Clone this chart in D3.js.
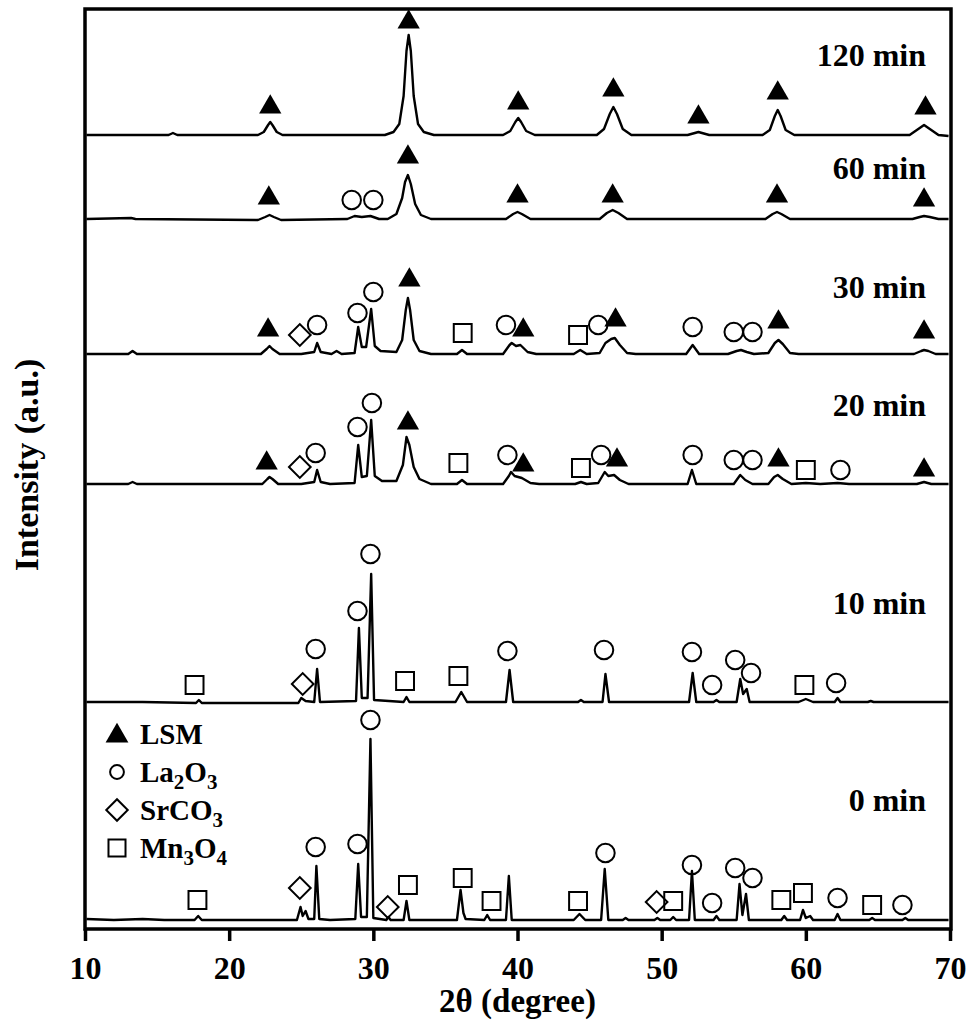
<!DOCTYPE html>
<html>
<head>
<meta charset="utf-8">
<script src="https://cdn.jsdelivr.net/npm/d3@7"></script>
<style>
  body { margin: 0; background: #fff; }
  .graph text { font-family: 'Liberation Serif', 'Times New Roman', serif; font-weight: bold; fill: #000; }
</style>
</head>
<body>
<div class="graph-container"></div>
<script>
// sample names, bottom to top
var SERIES = ['0 min', '10 min', '20 min', '30 min', '60 min', '120 min'];
// vertical shift of each pattern (a.u.)
var OFFSETS = [8, 226, 444, 574, 709, 793];
// height of the sample name above its pattern (a.u.)
var LABEL_HEIGHTS = [121, 100, 80, 68, 52, 81];
var X_TICKS = [10, 20, 30, 40, 50, 60, 70];

// patterns: [2theta, intensity above baseline]
var TRACE_0 = [[10.1,2],[12,1],[14,2],[15.5,1],[17.6,1],[17.85,5],[18.1,1],[21,1],[24.7,1],[24.95,14],[25.1,5],[25.3,10],[25.5,2],
  [25.9,2],[26.05,55],[26.25,2],[27,1],[28.75,2],[28.95,57],[29.15,4],[29.55,4],[29.8,182],[30.0,3],[30.9,1],[31.05,4],[31.2,1],
  [32.1,1],[32.3,20],[32.5,1],[35.8,1],[36.05,31],[36.25,8],[36.4,2],[37.7,1],[37.9,6],[38.1,1],[39.2,1],[39.4,45],[39.6,1],
  [43.9,1],[44.3,7],[44.7,1],[45.8,1],[46.05,52],[46.3,1],[47.3,1],[47.5,3],[47.7,1],[49.5,1],[49.7,3],[49.9,1],[50.6,1],[50.8,4],
  [51.0,1],[51.9,1],[52.1,50],[52.3,1],[53.6,1],[53.8,5],[54.0,1],[55.2,1],[55.4,37],[55.6,6],[55.85,27],[56.05,1],[58.3,1],
  [58.5,5],[58.7,1],[59.6,1],[59.8,11],[60.0,3],[60.3,5],[60.5,1],[62.0,1],[62.2,7],[62.4,1],[64.4,1],[64.6,3],[64.8,1],
  [66.7,1],[66.9,3],[67.1,1],[69.9,1]];
var TRACE_10 = [[10.1,1],[14,1],[17.7,0],[17.9,3],[18.1,0],[24.8,0],[25.0,5],[25.3,2],[25.9,1],[26.1,34],[26.3,1],[28.8,2],
  [29.0,75],[29.2,5],[29.6,5],[29.85,129],[30.05,3],[32.1,1],[32.3,6],[32.5,1],[35.7,1],[36.1,11],[36.5,1],[39.2,1],[39.45,33],
  [39.7,1],[44.2,1],[44.4,3],[44.6,1],[45.9,1],[46.1,29],[46.35,1],[51.9,1],[52.15,30],[52.4,1],[53.6,1],[53.8,3],[54,1],
  [55.2,1],[55.45,24],[55.65,9],[55.9,14],[56.1,1],[59.5,1],[60,4],[60.5,1],[62.0,1],[62.2,5],[62.4,1],[64.3,1],[64.5,2],
  [64.7,1],[69.9,1]];
var TRACE_20 = [[10.1,1],[13.0,1],[13.3,3],[13.6,1],[22.3,1],[22.65,6],[22.8,8],[23.0,6],[23.4,1],[25.0,1],[25.9,3],[26.1,15],
  [26.35,3],[27.0,1],[28.7,2],[28.95,40],[29.2,8],[29.55,9],[29.85,65],[30.1,9],[30.6,4],[31.6,4],[32.05,20],[32.3,48],[32.5,40],
  [32.8,18],[33.2,6],[34.0,1],[35.8,1],[36.15,5],[36.5,1],[39.0,1],[39.4,9],[39.55,13],[39.8,9],[40.3,7],[40.9,2],[41.5,1],
  [44.0,1],[44.4,3],[44.8,1],[45.6,2],[46.05,13],[46.3,9],[46.7,10],[47.1,5],[47.7,1],[51.8,1],[52.1,15],[52.4,1],[55.0,1],
  [55.45,10],[55.8,5],[56.3,1],[57.4,1],[57.8,8],[58.05,10],[58.4,6],[59.0,1],[60.0,2],[61,1],[62.2,2],[63,1],[67.7,1],
  [68.2,3],[68.7,1],[69.9,1]];
var TRACE_30 = [[10.1,1],[13.0,1],[13.3,4],[13.6,1],[20,1],[22.2,1],[22.6,6],[22.8,9],[23.0,6],[23.5,1],[25.0,1],[25.9,3],
  [26.1,12],[26.35,3],[27.1,1],[27.45,4],[27.8,1],[28.7,2],[28.95,28],[29.2,8],[29.5,8],[29.85,46],[30.1,9],[30.5,4],[31.6,3],
  [32.0,15],[32.25,45],[32.4,57],[32.55,45],[32.8,15],[33.2,4],[34,1],[35.8,1],[36.15,5],[36.5,1],[39.0,1],[39.45,10],
  [39.6,12],[39.9,9],[40.2,10],[40.7,3],[41.3,1],[43.9,1],[44.35,5],[44.8,1],[45.7,2],[46.1,12],[46.5,16],[46.75,17],
  [47.1,10],[47.6,2],[48.2,1],[51.7,1],[52.15,10],[52.6,1],[54.6,1],[55.2,4],[55.5,5],[55.9,3],[56.4,1],[57.4,2],[57.85,12],
  [58.1,15],[58.4,11],[58.9,2],[59.5,1],[67.5,1],[68.0,4],[68.2,5],[68.5,4],[69.0,1],[69.9,1]];
var TRACE_60 = [[10.1,1],[13.2,2],[13.5,1],[22.0,0],[22.5,3],[22.8,5],[23.1,3],[23.6,0],[28.2,1],[28.7,4],[29.2,3],[29.8,4],
  [30.4,1],[31.0,1],[31.6,6],[32.0,22],[32.2,38],[32.4,45],[32.6,36],[32.9,16],[33.3,5],[34.0,1],[39.2,1],[39.7,6],[40.0,8],
  [40.3,6],[40.9,1],[45.7,1],[46.2,7],[46.6,10],[47.0,7],[47.6,1],[57.2,1],[57.7,6],[58.0,8],[58.3,6],[58.9,1],[67.4,1],
  [67.9,3],[68.2,4],[68.6,3],[69.2,1],[69.9,1]];
var TRACE_120 = [[10.1,1],[13,1],[15.8,1],[16.1,3],[16.4,1],[22.0,1],[22.4,4],[22.7,11],[22.85,14],[23.0,11],[23.3,4],[23.7,1],
  [30.8,1],[31.4,4],[31.8,12],[32.1,40],[32.3,85],[32.45,101],[32.6,85],[32.8,40],[33.1,12],[33.5,4],[34.2,1],[39.0,1],
  [39.5,5],[39.85,14],[40.05,18],[40.25,14],[40.6,5],[41.2,1],[45.5,1],[46.0,7],[46.4,22],[46.65,29],[46.9,22],[47.3,7],
  [47.9,1],[51.8,1],[52.3,3],[52.55,4],[52.8,3],[53.3,1],[57.0,1],[57.5,6],[57.85,20],[58.05,26],[58.25,20],[58.6,6],
  [59.2,1],[67.2,1],[67.8,7],[68.2,11],[68.6,7],[69.2,1],[69.9,0]];

// phase markers: [2theta, height above baseline, phase]
// L = LSM, O = La2O3, S = SrCO3, M = Mn3O4
var MARKS_0 = [[17.8,21,'M'],[24.9,33,'S'],[26.0,74,'O'],[28.9,77,'O'],[29.8,201,'O'],[31.0,14,'S'],[32.4,36,'M'],
  [36.2,43,'M'],[38.2,20,'M'],[44.2,20,'M'],[46.1,68,'O'],[49.65,19,'S'],[50.8,20,'M'],[52.1,56,'O'],[53.5,18,'O'],
  [55.1,53,'O'],[56.3,43,'O'],[58.3,21,'M'],[59.8,28,'M'],[62.2,23,'O'],[64.6,16,'M'],[66.7,16,'O']];
var MARKS_10 = [[17.6,18,'M'],[25.1,19,'S'],[26.0,54,'O'],[28.9,92,'O'],[29.8,149,'O'],[32.2,22,'M'],[35.9,27,'M'],
  [39.3,52,'O'],[46.0,53,'O'],[52.1,51,'O'],[53.5,18,'O'],[55.1,43,'O'],[56.2,30,'O'],[59.9,18,'M'],[62.1,20,'O']];
var MARKS_20 = [[22.6,22,'L'],[24.9,18,'S'],[26.0,32,'O'],[28.9,58,'O'],[29.9,82,'O'],[32.4,62,'L'],[35.9,22,'M'],
  [39.3,30,'O'],[40.4,20,'L'],[44.4,17,'M'],[45.8,30,'O'],[46.9,25,'L'],[52.15,30,'O'],[55.0,25,'O'],[56.3,25,'O'],
  [58.1,25,'L'],[60.0,15,'M'],[62.4,15,'O'],[68.2,15,'L']];
var MARKS_30 = [[22.7,25,'L'],[24.9,20,'S'],[26.1,30,'O'],[28.9,42,'O'],[30.0,63,'O'],[32.5,75,'L'],[36.2,22,'M'],
  [39.2,30,'O'],[40.4,25,'L'],[44.2,20,'M'],[45.6,30,'O'],[46.8,35,'L'],[52.15,28,'O'],[55.0,23,'O'],[56.3,23,'O'],
  [58.1,33,'L'],[68.2,23,'L']];
var MARKS_60 = [[22.75,22,'L'],[28.5,20,'O'],[30.0,20,'O'],[32.4,63,'L'],[40.0,24,'L'],[46.6,24,'L'],[58.0,24,'L'],
  [68.2,20,'L']];
var MARKS_120 = [[22.85,29,'L'],[32.45,114,'L'],[40.05,33,'L'],[46.65,46,'L'],[52.55,19,'L'],[58.05,43,'L'],[68.3,28,'L']];

var TRACES = [TRACE_0, TRACE_10, TRACE_20, TRACE_30, TRACE_60, TRACE_120];
var MARKS = [MARKS_0, MARKS_10, MARKS_20, MARKS_30, MARKS_60, MARKS_120];

// legend entries: phase code and name split into [text, is subscript]
var PHASES = ['L', 'O', 'S', 'M'];
var PHASE_NAMES = [[['LSM', false]], [['La', false], ['2', true], ['O', false], ['3', true]],
  [['SrCO', false], ['3', true]], [['Mn', false], ['3', true], ['O', false], ['4', true]]];

function markerPath(code, big) {
  if (code === 'L') return d3.symbol().type(d3.symbolTriangle).size(big ? 215 : 225)();
  if (code === 'O') return d3.symbol().type(d3.symbolCircle).size(big ? 270 : 150)();
  if (code === 'M') return d3.symbol().type(d3.symbolSquare).size(big ? 320 : 290)();
  return d3.symbol().type(d3.symbolSquare).size(big ? 235 : 230)();
}

function drawMarker(g, code, x, y, big) {
  g.append('path')
    .attr('d', markerPath(code, big))
    .attr('transform', 'translate(' + x + ',' + y + ')' + (code === 'S' ? ' rotate(45)' : ''))
    .attr('fill', code === 'L' ? '#000' : 'none')
    .attr('stroke', '#000')
    .attr('stroke-width', code === 'L' ? 0 : 2);
}

function createChart() {
  var svgWidth = 972;
  var svgHeight = 1024;
  var plotLeft = 85;
  var plotRight = 950;
  var plotTop = 9;
  var plotBottom = 929;

  var svg = d3.select('.graph-container').append('svg')
    .attr('width', svgWidth)
    .attr('height', svgHeight)
    .attr('class', 'graph');

  var xScale = d3.scaleLinear()
    .domain([10, 70])
    .range([plotLeft, plotRight]);

  var yScale = d3.scaleLinear()
    .domain([0, 920])
    .range([plotBottom, plotTop]);

  var line = d3.line()
    .x(function(d) { return xScale(d[0]); })
    .y(function(d) { return yScale(d[1]); });

  // stacked patterns
  TRACES.forEach(function(trace, i) {
    var off = OFFSETS[i];
    svg.append('path')
      .datum(trace.map(function(d) { return [d[0], d[1] + off]; }))
      .attr('d', line)
      .attr('fill', 'none')
      .attr('stroke', '#000')
      .attr('stroke-width', 2.4)
      .attr('stroke-linejoin', 'round');

    var g = svg.append('g');
    MARKS[i].forEach(function(m) {
      drawMarker(g, m[2], xScale(m[0]), yScale(off + m[1]), true);
    });

    svg.append('text')
      .attr('x', 926)
      .attr('y', yScale(off + LABEL_HEIGHTS[i]) + 11)
      .style('text-anchor', 'end')
      .style('font-size', '32px')
      .text(SERIES[i]);
  });

  // frame
  svg.append('rect')
    .attr('x', plotLeft)
    .attr('y', plotTop)
    .attr('width', plotRight - plotLeft + 1)
    .attr('height', plotBottom - plotTop)
    .attr('fill', 'none')
    .attr('stroke', '#000')
    .attr('stroke-width', 3.5);

  // x axis
  var xAxis = d3.axisBottom(xScale)
    .tickValues(X_TICKS)
    .tickSize(12)
    .tickPadding(8)
    .tickFormat(d3.format('d'));
  var ax = svg.append('g')
    .attr('transform', 'translate(0,' + plotBottom + ')')
    .call(xAxis);
  ax.select('.domain').remove();
  ax.selectAll('line').attr('stroke', '#000').attr('stroke-width', 3.5);
  ax.selectAll('text')
    .attr('font-family', null)
    .attr('dy', null)
    .attr('y', 50)
    .style('font-size', '32px');

  svg.append('text')
    .attr('x', (plotLeft + plotRight) / 2)
    .attr('y', 1012)
    .style('text-anchor', 'middle')
    .style('font-size', '33px')
    .text('2\u03b8 (degree)');

  svg.append('text')
    .attr('transform', 'translate(38,465) rotate(-90)')
    .style('text-anchor', 'middle')
    .style('font-size', '34px')
    .text('Intensity (a.u.)');

  // legend
  var legend = svg.append('g').attr('transform', 'translate(117,734)');
  PHASES.forEach(function(code, i) {
    var row = legend.append('g').attr('transform', 'translate(0,' + (i * 38) + ')');
    drawMarker(row, code, 0, code === 'L' ? 2 : 0, false);
    var t = row.append('text')
      .attr('x', 23)
      .attr('y', 10)
      .style('font-size', '29px');
    var shifted = false;
    PHASE_NAMES[i].forEach(function(part) {
      var ts = t.append('tspan').text(part[0]);
      if (part[1]) {
        ts.attr('dy', shifted ? 0 : 7).style('font-size', '21px');
        shifted = true;
      } else {
        ts.attr('dy', shifted ? -7 : 0);
        shifted = false;
      }
    });
  });
}

createChart();
</script>
</body>
</html>
